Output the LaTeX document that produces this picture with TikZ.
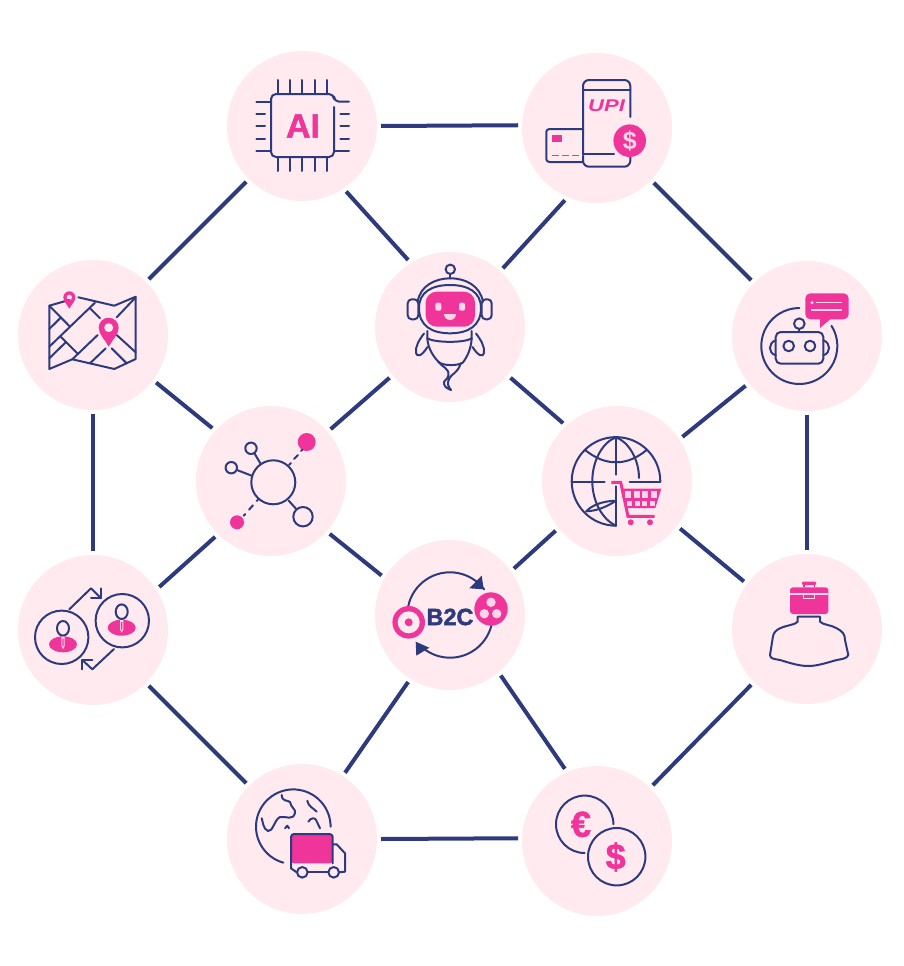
\documentclass[tikz,border=0pt]{standalone}
\usepackage{fontspec}
\setmainfont{Liberation Sans}
\usetikzlibrary{positioning}
\definecolor{hubblue}{HTML}{2E3A7E}
\definecolor{hubpink}{HTML}{F0359A}
\definecolor{hubfill}{HTML}{FFEAF0}
\definecolor{hubsoft}{HTML}{FFD6E6}
\tikzset{
hub/.style={ % Sets the properties for each round station
circle,
fill=hubfill,
inner sep=0pt,
minimum size=150pt,
outer sep=4pt},
every edge/.style={ % Sets the properties for each link
draw=hubblue,
line width=4pt},
icon/.style={ % Thin outline of the pictograms
draw=hubblue,
line width=2pt,
line join=round,
line cap=round},
pinkfill/.style={fill=hubpink},
soft/.style={fill=hubsoft},
softline/.style={draw=hubsoft, line width=1.3pt},
mappin/.pic={ % Pin of radius 1, tip below
\fill[hubpink, even odd rule] (0,1.9) .. controls (-.35,1.2) and (-1,.7) .. (-1,0)
	arc[start angle=180, end angle=360, radius=1]
	.. controls (1,.7) and (.35,1.2) .. (0,1.9) -- cycle
	(0,0) circle[radius=.46];
}}
\begin{document}
\begin{tikzpicture}[x=1pt, y=-1pt]
	\useasboundingbox (0,0) rectangle (903,966);
	\node[hub] (ai) at (302,126) {};
	\node[hub] (upi) at (597,128) {};
	\node[hub] (map) at (93,335) {};
	\node[hub] (robot) at (450,327) {};
	\node[hub] (chat) at (807,336) {};
	\node[hub] (net) at (271,481) {};
	\node[hub] (globe) at (617,481) {};
	\node[hub] (people) at (93,630) {};
	\node[hub] (b2c) at (450,615) {};
	\node[hub] (case) at (807,629) {};
	\node[hub] (truck) at (302,839) {};
	\node[hub] (money) at (597,841) {};

	\draw (ai.0) edge (upi.178.5);
	\draw (map.45) edge (ai.225);
	\draw (ai.-56.3) edge (robot.122);
	\draw (upi.246) edge (robot.48.6);
	\draw (upi.-44) edge (chat.135);
	\draw (map.-90) edge (people.90);
	\draw (map.-37.3) edge (net.138);
	\draw (robot.220.9) edge (net.41.4);
	\draw (robot.-40.4) edge (globe.133.5);
	\draw (chat.219.9) edge (globe.34.7);
	\draw (chat.-90) edge (case.90);
	\draw (net.225.5) edge (people.33);
	\draw (net.-42.5) edge (b2c.150.5);
	\draw (globe.219) edge (b2c.36.7);
	\draw (globe.-37.3) edge (case.143.7);
	\draw (people.-45.5) edge (truck.135.5);
	\draw (b2c.238.3) edge (truck.57.7);
	\draw (b2c.-50.7) edge (money.114.3);
	\draw (case.225.5) edge (money.45.5);
	\draw (truck.0) edge (money.178.5);

	% chip
	\draw[icon, rounded corners=5pt] (334,107) -- (334,157) -- (271,157) -- (271,94) -- (334,94) -- (334,101.7) -- (349,101.7);
	\foreach \i in {277.7,290,302.3,314.7,327} {
		\draw[icon] (\i,80) -- (\i,94);
		\draw[icon] (\i,157) -- (\i,171);
	}
	\foreach \i in {113.7,126.3,139} {
		\draw[icon] (256.3,\i) -- (265,\i);
		\draw[icon] (340.3,\i) -- (349,\i);
	}
	\draw[icon] (256.3,101.7) -- (271,101.7);
	\draw[icon] (256.3,151) -- (271,151);
	\draw[icon] (334,151) -- (349,151);
	\node[text=hubpink, font=\bfseries\fontsize{34}{34}\selectfont\addfontfeature{FakeBold=1.5}] (aitext) at (303,126) {AI};

	% phone and card
	\draw[icon, rounded corners=6pt] (630.3,117) -- (630.3,80) -- (583,80) -- (583,166.7) -- (630.3,166.7) -- (630.3,157);
	\draw[icon] (583,90) -- (630.3,90);
	\draw[icon] (583,154) -- (614,154);
	\draw[icon, rounded corners=3pt] (583,129) -- (546.3,129) -- (546.3,162) -- (583,162);
	\fill[pinkfill] (552,135.3) rectangle (562,141.7);
	\draw[hubpink, line width=1.4pt, dash pattern=on 7pt off 3pt] (552,155.7) -- (583,155.7);
	\node[text=hubpink, font=\bfseries\itshape\fontsize{17}{17}\selectfont] (upitext) at (606.5,106) {\scalebox{1.3}[1]{UPI}};
	\fill[pinkfill] (629.7,140.7) circle[radius=16.3];
	\node[text=hubsoft, font=\bfseries\fontsize{25}{25}\selectfont] (cointext) at (629.7,140.7) {\$};

	% map
	\draw[icon] (69,300) -- (49.3,305.7) -- (49.3,369) -- (72.3,359.3) -- (114.3,369) -- (135.7,359) -- (135.7,296.7) -- (114.3,305.7) -- (78.3,297.3);
	\draw[icon] (49.3,305.7) -- (70,326.7);
	\draw[icon] (49.3,329) -- (60.7,317.7);
	\draw[icon] (49.3,346.7) -- (95,302.7);
	\draw[icon] (49.3,358.3) -- (65.7,342.3);
	\draw[icon] (60.7,336.7) -- (77.3,353.3);
	\draw[icon] (72.3,359.3) -- (97.7,335);
	\draw[icon] (90,308.3) -- (100,318.3);
	\draw[icon] (90,363.3) -- (105.7,348.3);
	\draw[icon] (111.7,348.3) -- (126.7,363.3);
	\draw[icon] (116.7,335) -- (135.7,352.3);
	\draw[icon] (116.7,317.3) -- (135.7,297.3);
	\pic[scale=10] (bigpin) at (108.7,327.7) {mappin};
	\pic[scale=6] (smallpin) at (69.3,297.3) {mappin};

	% flying robot
	\draw[icon] (450.3,269.3) circle[radius=4.7];
	\draw[icon] (450.3,274) -- (450.3,278.3);
	\draw[icon] (417.7,301.7) .. controls (420,286) and (435,278.3) .. (450.3,278.3) .. controls (466,278.3) and (480,286) .. (483,301.7);
	\draw[icon] (419,308) .. controls (419,292) and (432,285) .. (450,285) .. controls (468,285) and (481,292) .. (481,308) .. controls (481,326) and (468,333.3) .. (450,333.3) .. controls (432,333.3) and (419,326) .. (419,308) -- cycle;
	\draw[icon, rounded corners=4pt] (407.7,299.3) rectangle (418.3,319.3);
	\draw[icon, rounded corners=4pt] (481.7,299.3) rectangle (491.7,319.3);
	\fill[pinkfill, rounded corners=11pt] (425.7,291.7) rectangle (475,326.7);
	\fill[soft, rounded corners=2pt] (435.3,302.7) rectangle (441.3,310.7);
	\fill[soft, rounded corners=2pt] (459,302.7) rectangle (465,310.7);
	\fill[soft] (444,314) arc[start angle=180, end angle=0, radius=6] -- cycle;
	\draw[icon] (427.3,331) -- (427.3,338.3) .. controls (435,343) and (465,343) .. (471.7,338.3) -- (471.7,331);
	\draw[icon] (427.3,338.3) .. controls (428,350) and (435,358) .. (438.3,361.7) .. controls (442,366) and (458,366) .. (462.7,362.7) .. controls (468,356) and (471,348) .. (471.7,338.3);
	\draw[icon] (438.3,361.7) .. controls (442,367) and (449,368) .. (448.5,375) .. controls (448,380) and (443,380) .. (444,384) .. controls (445,388) and (449,389) .. (451,390) .. controls (448,386) and (447,384) .. (449,379) .. controls (451,374) and (458,373) .. (460.7,363.3);
	\draw[icon] (424,333.5) .. controls (419,340) and (415,347) .. (416,353) .. controls (417,357) and (421,357) .. (427.5,347);
	\draw[icon] (476,333.5) .. controls (481,340) and (485,347) .. (484,353) .. controls (483,357) and (479,357) .. (472.5,347);

	% chat robot
	\draw[icon] (799.3,346) ++(-32:38) arc[start angle=-32, end angle=270, radius=38];
	\draw[icon, rounded corners=5pt] (775.7,332) rectangle (823.3,363.7);
	\draw[icon] (775.7,340.3) .. controls (768,343) and (768,353) .. (775.7,355.3);
	\draw[icon] (823.3,340.3) .. controls (831,343) and (831,353) .. (823.3,355.3);
	\draw[icon] (788.7,346) circle[radius=5.3];
	\draw[icon] (810,346) circle[radius=5.3];
	\draw[icon] (799.3,323.7) circle[radius=5.3];
	\draw[icon] (799.3,329) -- (799.3,332);
	\fill[pinkfill, rounded corners=5pt] (805.3,293.3) rectangle (848.7,319.3);
	\fill[pinkfill] (820,318) -- (820,328) -- (831.7,318) -- cycle;
	\fill[soft] (812,302.7) circle[radius=1.7];
	\draw[softline] (816,302.7) -- (842,302.7);
	\draw[softline] (811,310) -- (842,310);

	% network
	\draw[icon] (273.3,482.3) circle[radius=22];
	\fill[pinkfill] (306.7,442) circle[radius=9];
	\fill[pinkfill] (237,522.3) circle[radius=7];
	\draw[icon] (289,465) -- (291,463);
	\draw[icon] (294,459) -- (298,455);
	\draw[icon] (301,451) -- (302.3,449.7);
	\draw[icon] (256.7,501) -- (258,499.7);
	\draw[icon] (249,509.7) -- (253,505.3);
	\draw[icon] (243.7,515.7) -- (245.3,514);
	\draw[icon] (251,448.3) circle[radius=5.7];
	\draw[icon] (254.7,453.7) -- (260.3,463.3);
	\draw[icon] (231.3,467.7) circle[radius=5.7];
	\draw[icon] (237.7,470.3) -- (251.7,475.7);
	\draw[icon] (303,516.7) circle[radius=9.7];
	\draw[icon] (288.7,500.7) -- (296,508.7);

	% globe and cart
	\draw[icon] (616,525.7) arc[start angle=90, end angle=360, radius=44.3];
	\draw[icon] (572.3,482) -- (604.7,482);
	\draw[icon] (629.7,482) -- (660.3,482);
	\draw[icon] (616,437.3) -- (616,474.7);
	\draw[icon] (616,486.3) -- (616,525.7);
	\draw[icon] (584.7,449.7) .. controls (595,458) and (605,462.3) .. (616,462.3) .. controls (627,462.3) and (637,458) .. (647,449.7);
	\draw[icon] (616,437.3) .. controls (603,442) and (592.3,460) .. (592.3,481.3) .. controls (592.3,502) and (603,520) .. (616,525.7);
	\draw[icon] (616,437.3) .. controls (629,442) and (639,460) .. (639,478);
	\draw[icon] (586.3,511.3) .. controls (592,505) and (603,501) .. (616,500.7);
	\draw[icon] (586.3,511.3) .. controls (595,511) and (605,508) .. (616,500.7);
	\fill[pinkfill] (620.7,488.7) -- (661.3,488.7) -- (655.3,508) -- (625.3,508) -- cycle;
	\draw[hubpink, line width=3pt] (611.3,482.3) -- (620.7,482.3) -- (628,516.3) -- (654.7,516.3);
	\fill[soft] (625.3,491.3) rectangle (631.3,498);
	\fill[soft] (634,491.3) rectangle (639.7,498);
	\fill[soft] (642.3,491.3) rectangle (648,498);
	\fill[soft] (650.7,491.3) rectangle (657.3,498);
	\fill[soft] (627.3,500.7) rectangle (632.3,506.3);
	\fill[soft] (634.7,500.7) rectangle (639.7,506.3);
	\fill[soft] (642.3,500.7) rectangle (647.3,506.3);
	\fill[soft] (649.7,500.7) rectangle (654.7,506.3);
	\fill[pinkfill] (630.7,522.3) circle[radius=3];
	\fill[pinkfill] (650,522.3) circle[radius=3];

	% people
	\draw[icon] (61.7,637.3) circle[radius=26.7];
	\draw[icon] (122.3,620.7) circle[radius=26.7];
	\fill[pinkfill] (63,644.3) ellipse[x radius=14, y radius=8];
	\fill[pinkfill] (121.7,627.7) ellipse[x radius=14, y radius=8];
	\draw[icon] (63,628.3) ellipse[x radius=6, y radius=7.3];
	\draw[icon] (121.7,611.7) ellipse[x radius=6, y radius=7.3];
	\fill[soft] (61.3,636.5) -- (64.7,636.5) -- (64.7,646) -- (63,649) -- (61.3,646) -- cycle;
	\fill[soft] (120,620) -- (123.4,620) -- (123.4,629.5) -- (121.7,632.5) -- (120,629.5) -- cycle;
	\fill[pinkfill] (62.4,638.5) -- (63.6,638.5) -- (63.6,645.5) -- (63,647) -- (62.4,645.5) -- cycle;
	\fill[pinkfill] (121.1,622) -- (122.3,622) -- (122.3,629) -- (121.7,630.5) -- (121.1,629) -- cycle;
	\draw[icon] (69.3,609.3) -- (91,588.3) -- (101,598.3);
	\draw[icon] (91,598.3) -- (101,598.3) -- (101,588.3);
	\draw[icon] (114,649) -- (92.3,669.3) -- (82.3,660);
	\draw[icon] (82.3,669.3) -- (82.3,660) -- (92.3,660);

	% b2c
	\draw[icon] (450,615) ++(-169:42.7) arc[start angle=-169, end angle=-37, radius=42.7];
	\draw[icon] (450,615) ++(13.5:42.7) arc[start angle=13.5, end angle=136, radius=42.7];
	\fill[hubblue] (481.7,575.7) -- (483.7,589.3) -- (469.3,588.3) -- cycle;
	\fill[hubblue] (415.7,641.7) -- (416.3,655.7) -- (429.3,647.7) -- cycle;
	\fill[pinkfill] (408.7,622.3) circle[radius=16.3];
	\fill[hubfill] (408.7,622.3) circle[radius=11];
	\fill[pinkfill] (408.7,622.3) circle[radius=4];
	\fill[pinkfill] (491,609) circle[radius=16.7];
	\fill[soft] (491,602.3) circle[radius=4.7];
	\fill[soft] (484.3,613.7) circle[radius=4.7];
	\fill[soft] (496.7,613.7) circle[radius=4.7];
	\node[text=hubblue, font=\bfseries\fontsize{23.5}{24}\selectfont\addfontfeature{FakeBold=2}] (b2ctext) at (450,617) {B2C};

	% briefcase and shoulders
	\fill[pinkfill, rounded corners=3pt] (790,587.3) rectangle (828.3,614);
	\fill[pinkfill, rounded corners=1pt] (802,581.7) rectangle (816,585);
	\fill[pinkfill] (803,585) rectangle (804.5,587.3);
	\fill[pinkfill] (813.5,585) rectangle (815,587.3);
	\draw[softline] (790,594) -- (828.3,594);
	\draw[softline] (803.3,594) -- (803.3,598.7) -- (814.7,598.7) -- (814.7,594);
	\draw[icon] (797.7,616.7) -- (820,616.7) -- (820,621.7) .. controls (823,625) and (832,625) .. (836.7,628.3) .. controls (842,631) and (845,634) .. (845,640) -- (848.3,655) .. controls (847,659) and (841,659) .. (836.7,660) .. controls (826,663) and (817,666) .. (808.3,666) .. controls (799,666) and (790,663) .. (780,660) .. controls (775,659) and (770,659) .. (770,655) -- (772.7,638) .. controls (773,633) and (776,630) .. (780,628.3) .. controls (787,625) and (795,625) .. (797.7,621.7) -- cycle;

	% earth and truck
	\draw[icon] (293.3,826.7) ++(105.5:37.3) arc[start angle=105.5, end angle=360, radius=37.3];
	\draw[icon] (281.7,795) .. controls (282,802) and (288,800) .. (290,802) .. controls (291,808) and (296,809) .. (295,813) .. controls (293,821) and (286,816) .. (280,817) .. controls (274,820) and (273,832) .. (268,831) .. controls (263,829) and (263,822) .. (261.7,818.3);
	\draw[icon] (307.3,800.7) .. controls (308,806) and (313,808) .. (316.7,811.7);
	\draw[icon] (308.3,821.7) .. controls (311,817) and (316,817) .. (317,822) .. controls (318,824) and (319,826) .. (320,828.3);
	\draw[icon] (285,828.3) -- (287.3,825.7) -- (289,828.3);
	\fill[pinkfill, rounded corners=3pt] (291,863.3) -- (291,834) -- (332.7,834) -- (332.7,863.3) -- cycle;
	\draw[icon, rounded corners=3pt] (291,863.3) -- (291,834) -- (332.7,834) -- (332.7,863.3);
	\draw[icon] (332.7,844.3) -- (336.7,844.3) -- (345,853.3) -- (345,871.7) -- (339,872.3);
	\draw[icon] (291,863.3) -- (291,868.3) -- (296.7,872.3);
	\draw[icon] (307.7,872.3) -- (328.3,872.3);
	\draw[icon, fill=hubfill] (302.3,872.3) circle[radius=5.3];
	\draw[icon, fill=hubfill] (333.7,872.3) circle[radius=5.3];

	% coins
	\draw[icon] (584.7,853) arc[start angle=90, end angle=360, radius=28.7];
	\draw[icon] (616.7,856.7) circle[radius=28.7];
	\node[text=hubpink, font=\bfseries\fontsize{36}{36}\selectfont\addfontfeature{FakeBold=1.5}] (eurotext) at (581,824.3) {€};
	\node[text=hubpink, font=\bfseries\fontsize{36}{36}\selectfont\addfontfeature{FakeBold=1.5}] (dollartext) at (615.7,857) {\$};
\end{tikzpicture}
\end{document}
